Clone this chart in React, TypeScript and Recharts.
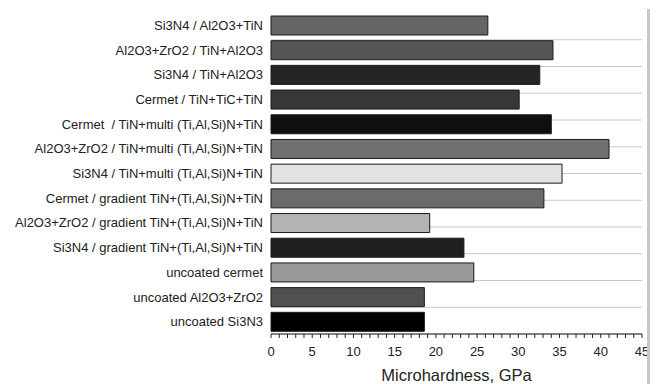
import React from 'react';
import { BarChart, Bar, XAxis, YAxis, CartesianGrid, Cell, Label } from 'recharts';

const coatings = [
  'Si3N4 / Al2O3+TiN',
  'Al2O3+ZrO2 / TiN+Al2O3',
  'Si3N4 / TiN+Al2O3',
  'Cermet / TiN+TiC+TiN',
  'Cermet  / TiN+multi (Ti,Al,Si)N+TiN',
  'Al2O3+ZrO2 / TiN+multi (Ti,Al,Si)N+TiN',
  'Si3N4 / TiN+multi (Ti,Al,Si)N+TiN',
  'Cermet / gradient TiN+(Ti,Al,Si)N+TiN',
  'Al2O3+ZrO2 / gradient TiN+(Ti,Al,Si)N+TiN',
  'Si3N4 / gradient TiN+(Ti,Al,Si)N+TiN',
  'uncoated cermet',
  'uncoated Al2O3+ZrO2',
  'uncoated Si3N3',
];

const microhardness = [26.3, 34.2, 32.6, 30.1, 34.0, 41.0, 35.3, 33.1, 19.25, 23.4, 24.6, 18.6, 18.6];

const barFills = [
  '#666666', '#555555', '#252525', '#383838', '#0f0f0f', '#707070', '#e2e2e2',
  '#6b6b6b', '#b4b4b4', '#1f1f1f', '#999999', '#505050', '#000000',
];

const xTicks = [
  0, 1, 2, 3, 4, 5, 6, 7, 8, 9, 10, 11, 12, 13, 14, 15, 16, 17, 18, 19, 20, 21, 22,
  23, 24, 25, 26, 27, 28, 29, 30, 31, 32, 33, 34, 35, 36, 37, 38, 39, 40, 41, 42, 43, 44, 45,
];
const xLabelEvery = 5;

// boundaries between categories (for the little axis ticks and grid lines)
const boundaryTicks = [0, 1, 2, 3, 4, 5, 6, 7, 8, 9, 10, 11, 12, 13];
const gridLines = [1, 2, 3, 4, 5, 6, 7, 8, 9, 10, 11, 12];

const data = coatings.map((name, i) => ({ name, value: microhardness[i] }));

const XTick = (props: any) => {
  const { x, y, payload } = props;
  if (payload.value % xLabelEvery !== 0) return <g />;
  return (
    <text x={x} y={y} dy="0.71em" textAnchor="middle" fill="#222" fontSize={13}>
      {payload.value}
    </text>
  );
};

const YTick = (props: any) => {
  const { x, y, payload } = props;
  return (
    <text x={x} y={y} dy="0.355em" textAnchor="end" fill="#222" fontSize={13} style={{ whiteSpace: 'pre' }}>
      {payload.value}
    </text>
  );
};

export default function App() {
  return (
    <div
      style={{
        position: 'absolute',
        left: 0,
        top: 0,
        width: 661,
        height: 384,
        background: '#fff',
        fontFamily: '"Liberation Sans", Arial, sans-serif',
      }}
    >
      <BarChart
        width={661}
        height={384}
        data={data}
        layout="vertical"
        margin={{ top: 13, right: 19, bottom: 0, left: 0 }}
      >
        <CartesianGrid
          yAxisId="grid"
          vertical={false}
          horizontalValues={gridLines}
          stroke="#c8c8c8"
        />
        <YAxis
          yAxisId="grid"
          type="number"
          domain={[0, 13]}
          ticks={boundaryTicks}
          interval={0}
          width={0}
          tickSize={3}
          tick={() => <g />}
          axisLine={{ stroke: '#222' }}
          tickLine={{ stroke: '#222' }}
        />
        <YAxis
          yAxisId="cat"
          type="category"
          dataKey="name"
          width={271}
          interval={0}
          axisLine={false}
          tickLine={false}
          tick={<YTick />}
        />
        <XAxis
          type="number"
          domain={[0, 45]}
          ticks={xTicks}
          interval={0}
          height={50}
          tickSize={4}
          tickMargin={9}
          tick={<XTick />}
          axisLine={{ stroke: '#222' }}
          tickLine={{ stroke: '#222' }}
        >
          <Label value="Microhardness, GPa" position="insideBottom" offset={3} fill="#222" fontSize={16.5} />
        </XAxis>
        <Bar
          yAxisId="cat"
          dataKey="value"
          barSize={19}
          stroke="#1a1a1a"
          strokeWidth={1}
          isAnimationActive={false}
        >
          {data.map((d, i) => (
            <Cell key={d.name} fill={barFills[i]} />
          ))}
        </Bar>
      </BarChart>
      <div
        style={{
          position: 'absolute',
          left: 647,
          top: 9,
          width: 3,
          height: 375,
          background: '#c8c8c8',
        }}
      />
    </div>
  );
}
